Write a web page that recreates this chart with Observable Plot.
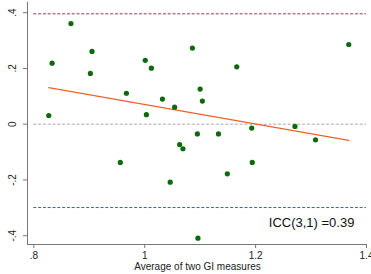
<!DOCTYPE html>
<html>
<head>
<meta charset="utf-8">
<script src="https://cdn.jsdelivr.net/npm/d3@7"></script>
<script src="https://cdn.jsdelivr.net/npm/@observablehq/plot@0.6"></script>
<style>
  html, body { margin: 0; padding: 0; background: #fff; }
  svg { display: block; }
</style>
</head>
<body>
<div id="chart"></div>
<script>
// Average of two GI measures (x) and difference (y)
const avgGI = [0.827, 0.833, 0.867, 0.905, 0.902, 0.967, 1.001, 1.012, 1.003, 1.032,
               1.054, 1.086, 1.100, 1.104, 1.166, 1.193, 1.271, 1.308, 1.368, 0.956,
               1.046, 1.063, 1.069, 1.095, 1.133, 1.149, 1.194, 1.096];
const diffGI = [0.031, 0.219, 0.361, 0.261, 0.182, 0.111, 0.229, 0.201, 0.034, 0.090,
                0.061, 0.273, 0.126, 0.083, 0.206, -0.014, -0.008, -0.056, 0.286, -0.137,
                -0.208, -0.073, -0.088, -0.035, -0.035, -0.178, -0.137, -0.409];
// fitted regression line end points
const fitX = [0.827, 1.368];
const fitY = [0.131, -0.058];
// limits of agreement and mean line
const upperLoA = 0.396;
const meanLine = 0;
const lowerLoA = -0.299;
// axis ticks
const xTicks = [0.8, 1, 1.2, 1.4];
const xTickLabels = [".8", "1", "1.2", "1.4"];
const yTicks = [-0.4, -0.2, 0, 0.2, 0.4];
const yTickLabels = ["-.4", "-.2", "0", ".2", ".4"];
const xTitle = "Average of two GI measures";
const iccLabel = "ICC(3,1) =0.39";
const iccPos = {x: 1.301, y: -0.353};

const points = avgGI.map((x, i) => ({x, y: diffGI[i]}));
const fit = fitX.map((x, i) => ({x, y: fitY[i]}));
const xLo = 0.78864, xHi = 1.40902;
const yLo = -0.43157, yHi = 0.44377;
const font = "Liberation Sans, Arial, sans-serif";

const chart = Plot.plot({
  width: 371,
  height: 274,
  marginLeft: 27,
  marginRight: 0,
  marginTop: 0,
  marginBottom: 30,
  style: {fontFamily: font, background: "#fff"},
  x: {domain: [xLo, xHi]},
  y: {domain: [yLo, yHi]},
  marks: [
    // limits of agreement and mean
    Plot.ruleY([upperLoA], {x1: 0.8, x2: 1.4, stroke: "#8e3b4f", strokeWidth: 1, strokeDasharray: "3,1.8"}),
    Plot.ruleY([meanLine], {x1: 0.8, x2: 1.4, stroke: "#a8a8a8", strokeWidth: 1, strokeDasharray: "3,1.8"}),
    Plot.ruleY([lowerLoA], {x1: 0.8, x2: 1.4, stroke: "#3d66a6", strokeWidth: 1, strokeDasharray: "3,1.8"}),
    // fit line
    Plot.line(fit, {x: "x", y: "y", stroke: "#f0602a", strokeWidth: 1.2}),
    // points
    Plot.dot(points, {x: "x", y: "y", r: 2.6, fill: "#0b6a0b", stroke: "none"}),
    // axis lines
    Plot.ruleX([xLo], {y1: yLo, y2: 0.4366, stroke: "#777", strokeWidth: 1}),
    Plot.ruleY([yLo], {x1: xLo, x2: 1.4, stroke: "#777", strokeWidth: 1}),
    // x axis ticks and labels
    Plot.axisX({ticks: xTicks, tickSize: 4, tickPadding: 3, fontSize: 10,
      tickFormat: d => xTickLabels[xTicks.indexOf(d)], label: null, stroke: "#777", color: "#222"}),
    // y axis ticks
    Plot.axisY({ticks: yTicks, tickSize: 4, tickFormat: () => "", label: null, stroke: "#777"}),
    // y tick labels rotated
    Plot.text(yTicks, {y: d => d, text: (d, i) => yTickLabels[i], frameAnchor: "left", dx: -15,
      rotate: -90, fontSize: 10, fill: "#222", lineAnchor: "middle", textAnchor: "middle"}),
    // x title
    Plot.text([xTitle], {text: d => d, frameAnchor: "bottom", dy: 22, dx: -2, fontSize: 10, fill: "#222", lineAnchor: "middle"}),
    // ICC label
    Plot.text([iccLabel], {x: () => iccPos.x, y: () => iccPos.y, text: d => d, fontSize: 13, fill: "#111"})
  ]
});
document.getElementById("chart").appendChild(chart);
</script>
</body>
</html>
